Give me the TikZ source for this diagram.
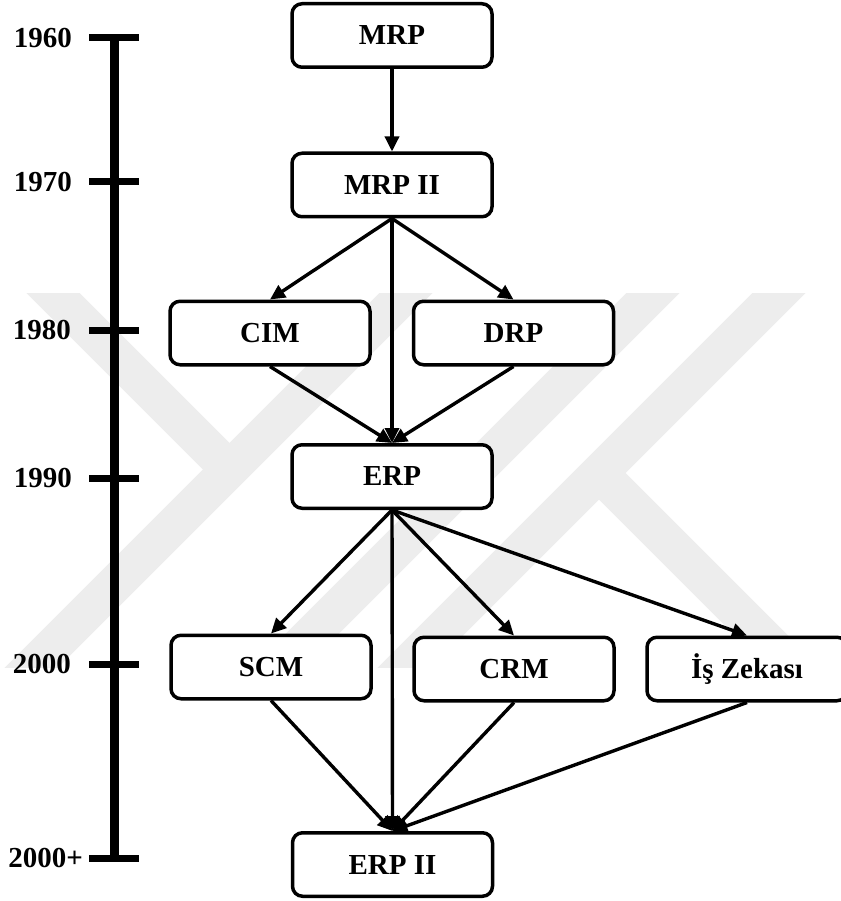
\documentclass[tikz,border=0pt]{standalone}
\usepackage{fontspec}
\setmainfont{Liberation Serif}
\usetikzlibrary{arrows.meta}

\definecolor{filigran}{HTML}{EDEDED}

\begin{document}
\begin{tikzpicture}[x=1pt, y=-1pt, >={Triangle[length=15pt, width=14pt]},
    font=\fontsize{29}{32}\selectfont\bfseries,
    kutu/.style={draw, rounded corners=10pt, line width=3.5pt, fill=white,
        minimum width=200pt, minimum height=63.5pt, inner sep=0pt},
    ok/.style={->, line width=3.4pt}]

    \useasboundingbox (0,0) rectangle (840,901);

    % --- 1. FILIGRAN (soluk arka plan) ---
    \begin{scope}
        \clip (0,293) rectangle (840,667);
        % egik bantlar "/"
        \foreach \xa in {406, 653, 779}
            \draw[filigran, line width=37.5pt] ({\xa+43},250) -- ({\xa-417},710);
        % egik bantlar "\"
        \draw[filigran, line width=37.5pt] (10,250) -- (229.5,469.5);
        \draw[filigran, line width=37.5pt] (599,473) -- (836,710);
    \end{scope}

    % --- 2. ZAMAN EKSENI ---
    \draw[line width=9pt] (114,38) -- (114,858);
    \foreach \y/\yil/\xl [count=\i] in {38/1960/72, 182/1970/72, 330/1980/71,
            478/1990/72, 664/2000/71, 858/2000+/83}{
        \draw[line width=7pt] (89,\y) -- (139,\y);
        \node[anchor=east, inner sep=0pt] (yil\i) at (\xl,\y) {\yil};
    }

    % --- 3. KUTULAR ---
    \node[kutu] (mrp)  at (392,35.5)  {MRP};
    \node[kutu] (mrp2) at (392,185)   {MRP II};
    \node[kutu] (cim)  at (270,333)   {CIM};
    \node[kutu] (drp)  at (513.5,333) {DRP};
    \node[kutu] (erp)  at (392,476.5) {ERP};
    \node[kutu] (scm)  at (271,667)   {SCM};
    \node[kutu] (crm)  at (514,669)   {CRM};
    \node[kutu] (bi)   at (747,669)   {İş Zekası};
    \node[kutu] (erp2) at (392.5,864.5) {ERP II};

    % --- 4. OKLAR ---
    \draw[ok] (mrp) -- (mrp2);
    \foreach \h in {cim, erp, drp}
        \draw[ok] (mrp2.south) -- (\h.north);
    \foreach \k in {cim, drp}
        \draw[ok] (\k.south) -- (erp.north);
    \foreach \h in {scm, erp2, crm, bi}
        \draw[ok] (erp.south) -- (\h.north);
    \foreach \k in {scm, crm, bi}
        \draw[ok] (\k.south) -- (erp2.north);

\end{tikzpicture}
\end{document}
